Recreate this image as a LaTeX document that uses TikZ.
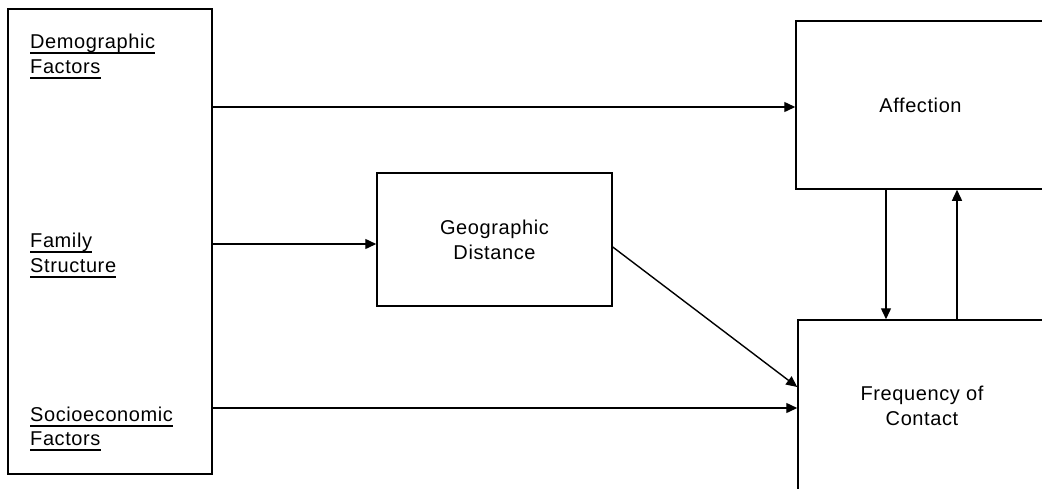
\documentclass[tikz,border=0pt]{standalone}
\usepackage{fontspec}
\setmainfont{Liberation Sans}[LetterSpace=3]
\usetikzlibrary{arrows.meta}
\begin{document}
\begin{tikzpicture}[x=1pt,y=-1pt,
  box/.style={draw,line width=1.5pt,inner sep=0pt},
  lbl/.style={anchor=base west,inner sep=0pt,font=\fontsize{20}{25}\selectfont},
  ctext/.style={align=center,font=\fontsize{20}{25}\selectfont},
  ln/.style={line width=1.4pt},
  arr/.style={ln,-{Triangle[length=11pt,width=10pt]}},
  ul/.style={line width=1.2pt}]
\useasboundingbox (0,0) rectangle (1042,488);

% boxes
\node[box,minimum width=204pt,minimum height=465pt] (L) at (110,241.5) {};
\node[box,minimum width=235pt,minimum height=133pt,ctext] (Geo) at (494.5,239.5) {Geographic\\Distance};
\node[box,minimum width=249pt,minimum height=168pt,ctext] (Aff) at (920.5,105) {Affection};
\node[box,minimum width=248pt,minimum height=171pt,ctext] (Freq) at (922,405.5) {Frequency of\\Contact};

% labels in the left box
\node[lbl] (dem1) at (30,48) {Demographic};
\node[lbl] (dem2) at (30,73) {Factors};
\node[lbl] (fam1) at (30,247) {Family};
\node[lbl] (fam2) at (30,272) {Structure};
\node[lbl] (soc1) at (30,421) {Socioeconomic};
\node[lbl] (soc2) at (30,445) {Factors};
\foreach \n in {dem1,dem2,fam1,fam2,soc1,soc2}
  \draw[ul] ([yshift=-5pt]\n.base west) -- ([yshift=-5pt]\n.base east);

% connector rows
\coordinate (r1) at (0,107);
\coordinate (r2) at (0,244);
\coordinate (r3) at (0,408);
\coordinate (d1) at (0,247);
\coordinate (d2) at (0,387);
\coordinate (c1) at (886,0);
\coordinate (c2) at (957,0);

\draw[arr] (L.east |- r1) -- (Aff.west |- r1);
\draw[arr] (L.east |- r2) -- (Geo.west |- r2);
\draw[arr] (L.east |- r3) -- (Freq.west |- r3);
\draw[arr] (Geo.east |- d1) -- (Freq.west |- d2);
\draw[arr] (Aff.south -| c1) -- (Freq.north -| c1);
\draw[arr] (Freq.north -| c2) -- (Aff.south -| c2);
\end{tikzpicture}
\end{document}
